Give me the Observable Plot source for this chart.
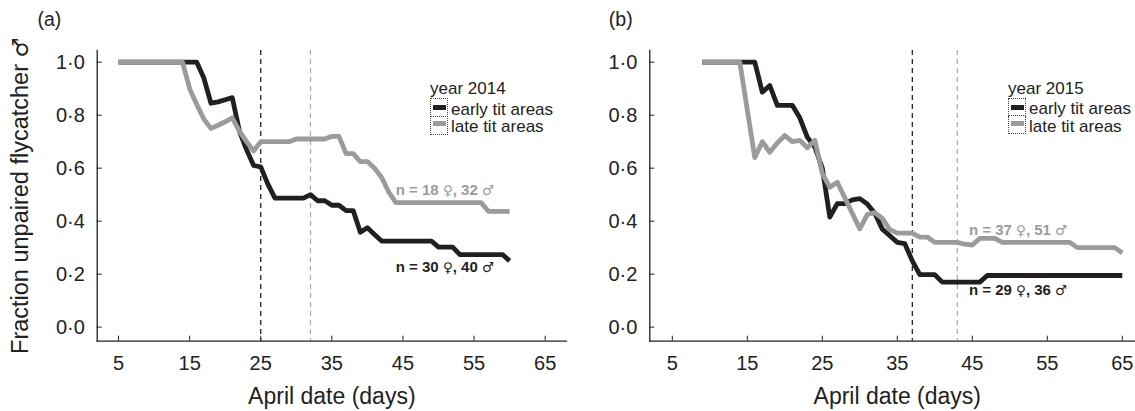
<!DOCTYPE html>
<html>
<head>
<meta charset="utf-8">
<script src="https://cdn.jsdelivr.net/npm/d3@7"></script>
<script src="https://cdn.jsdelivr.net/npm/@observablehq/plot@0.6"></script>
<style>
  body { margin: 0; background: #fff; }
  #wrap { position: relative; width: 1135px; height: 411px; overflow: hidden;
          font-family: "Liberation Sans", Arial, sans-serif; color: #222; }
  .panel { position: absolute; top: 0; }
  .lg { position: absolute; font-size: 17px; line-height: 17px; color: #222; white-space: nowrap; }
  .sw { position: absolute; width: 18px; height: 18.5px; box-sizing: border-box; border: 1px dotted #444; }
  .sw i { position: absolute; left: 1.5px; top: 6px; width: 13px; height: 5px; }
</style>
</head>
<body>
<div id="wrap"></div>
<script>
// ---------- data ----------
const xTicks = [5, 15, 25, 35, 45, 55, 65];
const yTicks = [0, 0.2, 0.4, 0.6, 0.8, 1.0];
const xTitle = "April date (days)";
const yTitle = "Fraction unpaired flycatcher ♂";
const seriesNames = ["early tit areas", "late tit areas"];

// 2014 (panel a)
const earlyDays2014 = [5, 16, 17, 18, 19, 20, 21, 22, 23, 24, 25, 26, 27, 31, 32, 33, 34, 35, 36, 37, 38, 39, 40, 41, 42, 49, 50, 52, 53, 59, 60];
const earlyFrac2014 = [1, 1, 0.94, 0.845, 0.85, 0.858, 0.866, 0.74, 0.67, 0.61, 0.605, 0.54, 0.487, 0.487, 0.50, 0.477, 0.477, 0.46, 0.46, 0.44, 0.44, 0.358, 0.375, 0.35, 0.325, 0.325, 0.302, 0.302, 0.274, 0.274, 0.25];
const lateDays2014 = [5, 14, 15, 16, 17, 18, 19, 20, 21, 22, 23, 24, 25, 29, 30, 34, 35, 36, 37, 38, 39, 40, 41, 42, 43, 44, 56, 57, 60];
const lateFrac2014 = [1, 1, 0.90, 0.84, 0.785, 0.75, 0.762, 0.775, 0.79, 0.74, 0.70, 0.665, 0.70, 0.70, 0.71, 0.71, 0.72, 0.72, 0.655, 0.655, 0.625, 0.625, 0.60, 0.565, 0.51, 0.47, 0.47, 0.437, 0.437];

// 2015 (panel b)
const earlyDays2015 = [9, 16, 17, 18, 19, 21, 22, 23, 24, 25, 26, 27, 28, 29, 30, 31, 32, 33, 34, 35, 36, 37, 38, 40, 41, 46, 47, 65];
const earlyFrac2015 = [1, 1, 0.887, 0.912, 0.837, 0.837, 0.79, 0.717, 0.68, 0.60, 0.415, 0.466, 0.466, 0.48, 0.485, 0.465, 0.43, 0.37, 0.345, 0.32, 0.315, 0.25, 0.198, 0.198, 0.17, 0.17, 0.195, 0.195];
const lateDays2015 = [9, 14, 16, 17, 18, 19, 20, 21, 22, 23, 24, 25, 26, 27, 30, 31, 32, 33, 34, 35, 37, 38, 39, 40, 43, 44, 45, 46, 48, 49, 58, 59, 64, 65];
const lateFrac2015 = [1, 1, 0.64, 0.70, 0.66, 0.695, 0.723, 0.70, 0.705, 0.677, 0.705, 0.58, 0.528, 0.547, 0.371, 0.425, 0.432, 0.41, 0.368, 0.355, 0.355, 0.34, 0.34, 0.32, 0.32, 0.313, 0.31, 0.335, 0.335, 0.32, 0.32, 0.30, 0.30, 0.28];

// mean dates (dashed lines)
const meanDates2014 = [25, 32];
const meanDates2015 = [37, 43];

// sample sizes
const nLabels2014 = ["n = 30 ♀, 40 ♂", "n = 18 ♀, 32 ♂"];
const nLabels2015 = ["n = 29 ♀, 36 ♂", "n = 37 ♀, 51 ♂"];

// ---------- drawing ----------
const BLACK = "#231f20", GREY = "#9b9b9b";
const fmt = d => d.toFixed(1).replace(".", "·");
const toRows = (days, fr) => days.map((d, i) => ({day: d, frac: fr[i]}));
const NARROW = '"Liberation Sans Narrow", "Liberation Sans", Arial, sans-serif';

function panel(o) {
  return Plot.plot({
    width: o.width, height: 411,
    marginLeft: o.marginLeft, marginRight: 0, marginTop: 50, marginBottom: 70.3,
    x: {domain: o.xDomain},
    y: {domain: [-0.053, 1.044]},
    style: {fontFamily: '"Liberation Sans", Arial, sans-serif', background: "transparent", color: "#222", overflow: "visible"},
    marks: [
      Plot.ruleX([o.means[0]], {x: d => d, stroke: "#111", strokeWidth: 1.2, strokeDasharray: "5,4"}),
      Plot.ruleX([o.means[1]], {x: d => d, stroke: "#a8a8a8", strokeWidth: 1.2, strokeDasharray: "5,4"}),
      Plot.frame({anchor: "left", stroke: "#222", strokeWidth: 1.3}),
      Plot.frame({anchor: "bottom", stroke: "#222", strokeWidth: 1.3}),
      Plot.axisY({ticks: yTicks, tickSize: 5, dx: 5, tickFormat: () => "", label: null, stroke: "#222"}),
      Plot.axisY({ticks: yTicks, tickSize: 0, tickPadding: 12.4, tickFormat: fmt, fontSize: 20, label: null}),
      Plot.axisX({ticks: xTicks, tickSize: 5, dy: -5, tickFormat: () => "", label: null, stroke: "#222"}),
      Plot.axisX({ticks: xTicks, tickSize: 0, tickPadding: 15, fontSize: 20, label: null}),
      Plot.line(o.early, {x: "day", y: "frac", stroke: BLACK, strokeWidth: 4.8, strokeLinecap: "butt", strokeLinejoin: "round"}),
      Plot.line(o.late, {x: "day", y: "frac", stroke: GREY, strokeWidth: 4.8, strokeLinecap: "butt", strokeLinejoin: "round"}),
      Plot.text([o.nLabels[1]], {x: [o.nPos[0]], y: [o.nPos[1]], fill: GREY, fontWeight: "bold", fontSize: 15, fontFamily: NARROW}),
      Plot.text([o.nLabels[0]], {x: [o.nPos[0]], y: [o.nPos[2]], fill: BLACK, fontWeight: "bold", fontSize: 15, fontFamily: NARROW}),
      Plot.text([xTitle], {x: [35], frameAnchor: "bottom", dy: 55.5, fontSize: 23, lineAnchor: "middle"}),
      Plot.text([o.tag], {frameAnchor: "top-left", dx: o.tagDx, dy: -31, fontSize: 19.5, textAnchor: "start", lineAnchor: "middle"}),
      o.yTitle ? Plot.text([yTitle], {frameAnchor: "left", dx: -76.7, rotate: -90, fontSize: 23.5, textAnchor: "middle", lineAnchor: "middle"}) : null
    ]
  });
}

// render the sex symbols with a font whose glyphs are full-size
function symbolFont(svg, size) {
  d3.select(svg).selectAll("text").each(function () {
    const t = this.textContent;
    if (!/[♀♂]/.test(t) || this.querySelector("tspan")) return;
    const parts = t.split(/([♀♂])/);
    this.textContent = "";
    for (const p of parts) {
      if (!p) continue;
      const ts = document.createElementNS("http://www.w3.org/2000/svg", "tspan");
      ts.textContent = p;
      if (p === "♀" || p === "♂") {
        ts.setAttribute("font-family", "DejaVu Sans");
        ts.setAttribute("font-weight", "normal");
        ts.setAttribute("font-size", size(this));
      }
      this.appendChild(ts);
    }
  });
}

function legend(left, top, year) {
  const d = document.createElement("div");
  d.innerHTML = `
    <div class="lg" style="left:${left}px;top:${top}px">year ${year}</div>
    <div class="sw" style="left:${left}px;top:${top + 18}px"><i style="background:${BLACK}"></i></div>
    <div class="sw" style="left:${left}px;top:${top + 36.3}px;border-top:none;height:18.3px"><i style="background:${GREY};top:5px"></i></div>
    <div class="lg" style="left:${left + 21}px;top:${top + 20.5}px">${seriesNames[0]}</div>
    <div class="lg" style="left:${left + 21}px;top:${top + 38}px">${seriesNames[1]}</div>`;
  return d;
}

const wrap = document.getElementById("wrap");
const symSize = el => (+el.getAttribute("font-size") || parseFloat(getComputedStyle(el).fontSize)) > 20 ? "22px" : "13.5px";

const a = panel({
  width: 566, marginLeft: 96.7, xDomain: [2, 68],
  early: toRows(earlyDays2014, earlyFrac2014), late: toRows(lateDays2014, lateFrac2014),
  means: meanDates2014, nLabels: nLabels2014, nPos: [50.9, 0.516, 0.225],
  tag: "(a)", tagDx: -59.7, yTitle: true
});
a.classList.add("panel"); a.style.left = "0px";
wrap.appendChild(a);
symbolFont(a, symSize);

const b = panel({
  width: 569, marginLeft: 83.3, xDomain: [2, 2 + (569 - 83.3) / 7.5],
  early: toRows(earlyDays2015, earlyFrac2015), late: toRows(lateDays2015, lateFrac2015),
  means: meanDates2015, nLabels: nLabels2015, nPos: [51.1, 0.365, 0.138],
  tag: "(b)", tagDx: -41, yTitle: false
});
b.classList.add("panel"); b.style.left = "566px";
wrap.appendChild(b);
symbolFont(b, symSize);

wrap.appendChild(legend(430, 80, 2014));
wrap.appendChild(legend(1008, 79.5, 2015));
</script>
</body>
</html>
